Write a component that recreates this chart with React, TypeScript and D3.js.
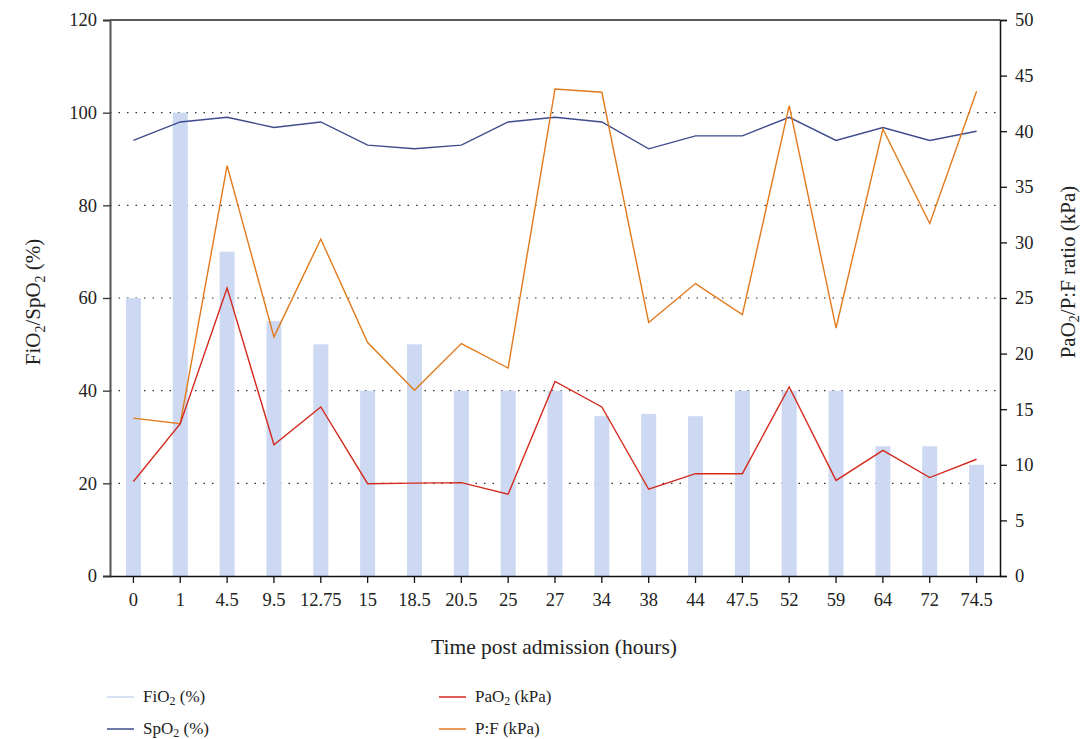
import React, { useRef, useEffect } from 'react';
import * as d3 from 'd3';

const times = ['0', '1', '4.5', '9.5', '12.75', '15', '18.5', '20.5', '25', '27', '34', '38', '44', '47.5', '52', '59', '64', '72', '74.5'];
const fio2 = [60, 100, 70, 55, 50, 40, 50, 40, 40, 40, 34.5, 35, 34.5, 40, 40, 40, 28, 28, 24];
const spo2 = [94, 98, 99, 96.8, 98, 93, 92.2, 93, 98, 99, 98, 92.2, 95, 95, 99, 94, 96.8, 94, 96];
const pao2 = [8.5, 13.7, 25.9, 11.8, 15.2, 8.3, 8.35, 8.4, 7.35, 17.5, 15.2, 7.8, 9.2, 9.2, 17.0, 8.6, 11.3, 8.85, 10.5];
const pfRatio = [14.2, 13.7, 36.9, 21.5, 30.3, 21.0, 16.7, 20.9, 18.7, 43.8, 43.5, 22.8, 26.3, 23.5, 42.3, 22.3, 40.2, 31.7, 43.6];
const leftTicks = [0, 20, 40, 60, 80, 100, 120];
const rightTicks = [0, 5, 10, 15, 20, 25, 30, 35, 40, 45, 50];

const FONT = '"Liberation Serif", "DejaVu Serif", serif';
const C_BAR = '#cdd9f2';
const C_SPO2 = '#3d4b8c';
const C_PAO2 = '#d42a1e';
const C_PF = '#e27a1c';

const Chart: React.FC = () => {
    const svgRef = useRef<SVGSVGElement | null>(null);
    useEffect(() => {
        if (!svgRef.current) return;
        const svg = d3.select(svgRef.current);
        svg.selectAll('*').remove();
        const [left, right, top, bottom] = [110, 1000, 20, 576];

        const x = d3.scaleBand<string>().domain(times).range([left, right]).padding(0);
        const cx = (t: string) => (x(t) as number) + x.bandwidth() / 2;
        const yL = d3.scaleLinear().domain([0, 120]).range([bottom, top]);
        const yR = d3.scaleLinear().domain([0, 50]).range([bottom, top]);
        const barW = x.bandwidth() * 0.32;

        // gridlines
        svg.append('g').selectAll('line').data(leftTicks.filter(d => d > 0 && d < 120)).join('line')
            .attr('x1', left).attr('x2', right).attr('y1', d => yL(d)).attr('y2', d => yL(d))
            .attr('stroke', '#333').attr('stroke-width', 1.2).attr('stroke-dasharray', '1.5 7');

        // top frame
        svg.append('line').attr('x1', left).attr('x2', right).attr('y1', top).attr('y2', top)
            .attr('stroke', '#222').attr('stroke-width', 1.3);

        // bars
        svg.append('g').selectAll('rect').data(fio2).join('rect')
            .attr('x', (d, i) => cx(times[i]) - barW / 2).attr('width', barW)
            .attr('y', d => yL(d)).attr('height', d => bottom - yL(d)).attr('fill', C_BAR);

        const lineL = d3.line<number>().x((d, i) => cx(times[i])).y(d => yL(d));
        const lineR = d3.line<number>().x((d, i) => cx(times[i])).y(d => yR(d));
        svg.append('path').datum(spo2).attr('fill', 'none').attr('stroke', C_SPO2).attr('stroke-width', 1.4).attr('d', lineL);
        svg.append('path').datum(pfRatio).attr('fill', 'none').attr('stroke', C_PF).attr('stroke-width', 1.4).attr('d', lineR);
        svg.append('path').datum(pao2).attr('fill', 'none').attr('stroke', C_PAO2).attr('stroke-width', 1.4).attr('d', lineR);

        // axes
        const gL = svg.append('g').attr('transform', `translate(${left},0)`)
            .call(d3.axisLeft(yL).tickValues(leftTicks).tickSize(7).tickPadding(6));
        gL.select('.domain').attr('stroke', '#555').attr('stroke-width', 2);
        gL.selectAll('.tick line').attr('stroke', '#333').attr('stroke-width', 1.3);

        const gR = svg.append('g').attr('transform', `translate(${right},0)`)
            .call(d3.axisRight(yR).tickValues(rightTicks).tickSize(7).tickPadding(8));
        gR.select('.domain').attr('stroke', '#111').attr('stroke-width', 1.5);
        gR.selectAll('.tick line').attr('stroke', '#111').attr('stroke-width', 1.3);

        const gX = svg.append('g').attr('transform', `translate(0,${bottom})`)
            .call(d3.axisBottom(x).tickSize(7).tickPadding(10).tickSizeOuter(0));
        gX.select('.domain').attr('stroke', '#111').attr('stroke-width', 1.5);
        gX.selectAll('.tick line').attr('stroke', '#111').attr('stroke-width', 1.3);

        svg.selectAll('.tick text').attr('font-family', FONT).attr('font-size', 18.5).attr('fill', '#222');

        // titles
        const txt = (size: number) => (s: d3.Selection<SVGTextElement, unknown, null, undefined>) =>
            s.attr('font-family', FONT).attr('font-size', size).attr('fill', '#222');
        svg.append('text').attr('x', (left + right) / 2 - 1).attr('y', 654).attr('text-anchor', 'middle')
            .text('Time post admission (hours)').call(txt(21.5));

        const yt = svg.append('text').attr('transform', `translate(40,${(top + bottom) / 2 + 4}) rotate(-90)`)
            .attr('text-anchor', 'middle').call(txt(21));
        yt.append('tspan').text('FiO');
        yt.append('tspan').text('2').attr('font-size', 14).attr('dy', 5);
        yt.append('tspan').text('/SpO').attr('dy', -5);
        yt.append('tspan').text('2').attr('font-size', 14).attr('dy', 5);
        yt.append('tspan').text(' (%)').attr('dy', -5);

        const rt = svg.append('text').attr('transform', `translate(1075,${(top + bottom) / 2 - 26}) rotate(-90)`)
            .attr('text-anchor', 'middle').call(txt(21));
        rt.append('tspan').text('PaO');
        rt.append('tspan').text('2').attr('font-size', 14).attr('dy', 4);
        rt.append('tspan').text('/P:F ratio (kPa)').attr('dy', -4);

        // legend
        const legend = [
            { main: 'FiO', rest: ' (%)', color: C_BAR, lx: 107, ly: 697 },
            { main: 'SpO', rest: ' (%)', color: C_SPO2, lx: 107, ly: 729 },
            { main: 'PaO', rest: ' (kPa)', color: C_PAO2, lx: 439, ly: 697 },
            { main: 'P:F (kPa)', rest: '', color: C_PF, lx: 439, ly: 729 },
        ];
        legend.forEach(l => {
            svg.append('line').attr('x1', l.lx).attr('x2', l.lx + 27).attr('y1', l.ly).attr('y2', l.ly)
                .attr('stroke', l.color).attr('stroke-width', 1.5);
            const t = svg.append('text').attr('x', l.lx + 36).attr('y', l.ly + 5).call(txt(17));
            t.append('tspan').text(l.main);
            if (l.rest) {
                t.append('tspan').text('2').attr('font-size', 12).attr('dy', 3);
                t.append('tspan').text(l.rest).attr('dy', -3);
            }
        });
    }, []);
    return <svg ref={svgRef} width={1086} height={739} style={{ display: 'block' }} />;
};

export default function App() {
    return (
        <div style={{ position: 'absolute', left: 0, top: 0, width: 1086, height: 739, overflow: 'hidden', background: '#fff' }}>
            <Chart />
        </div>
    );
}
